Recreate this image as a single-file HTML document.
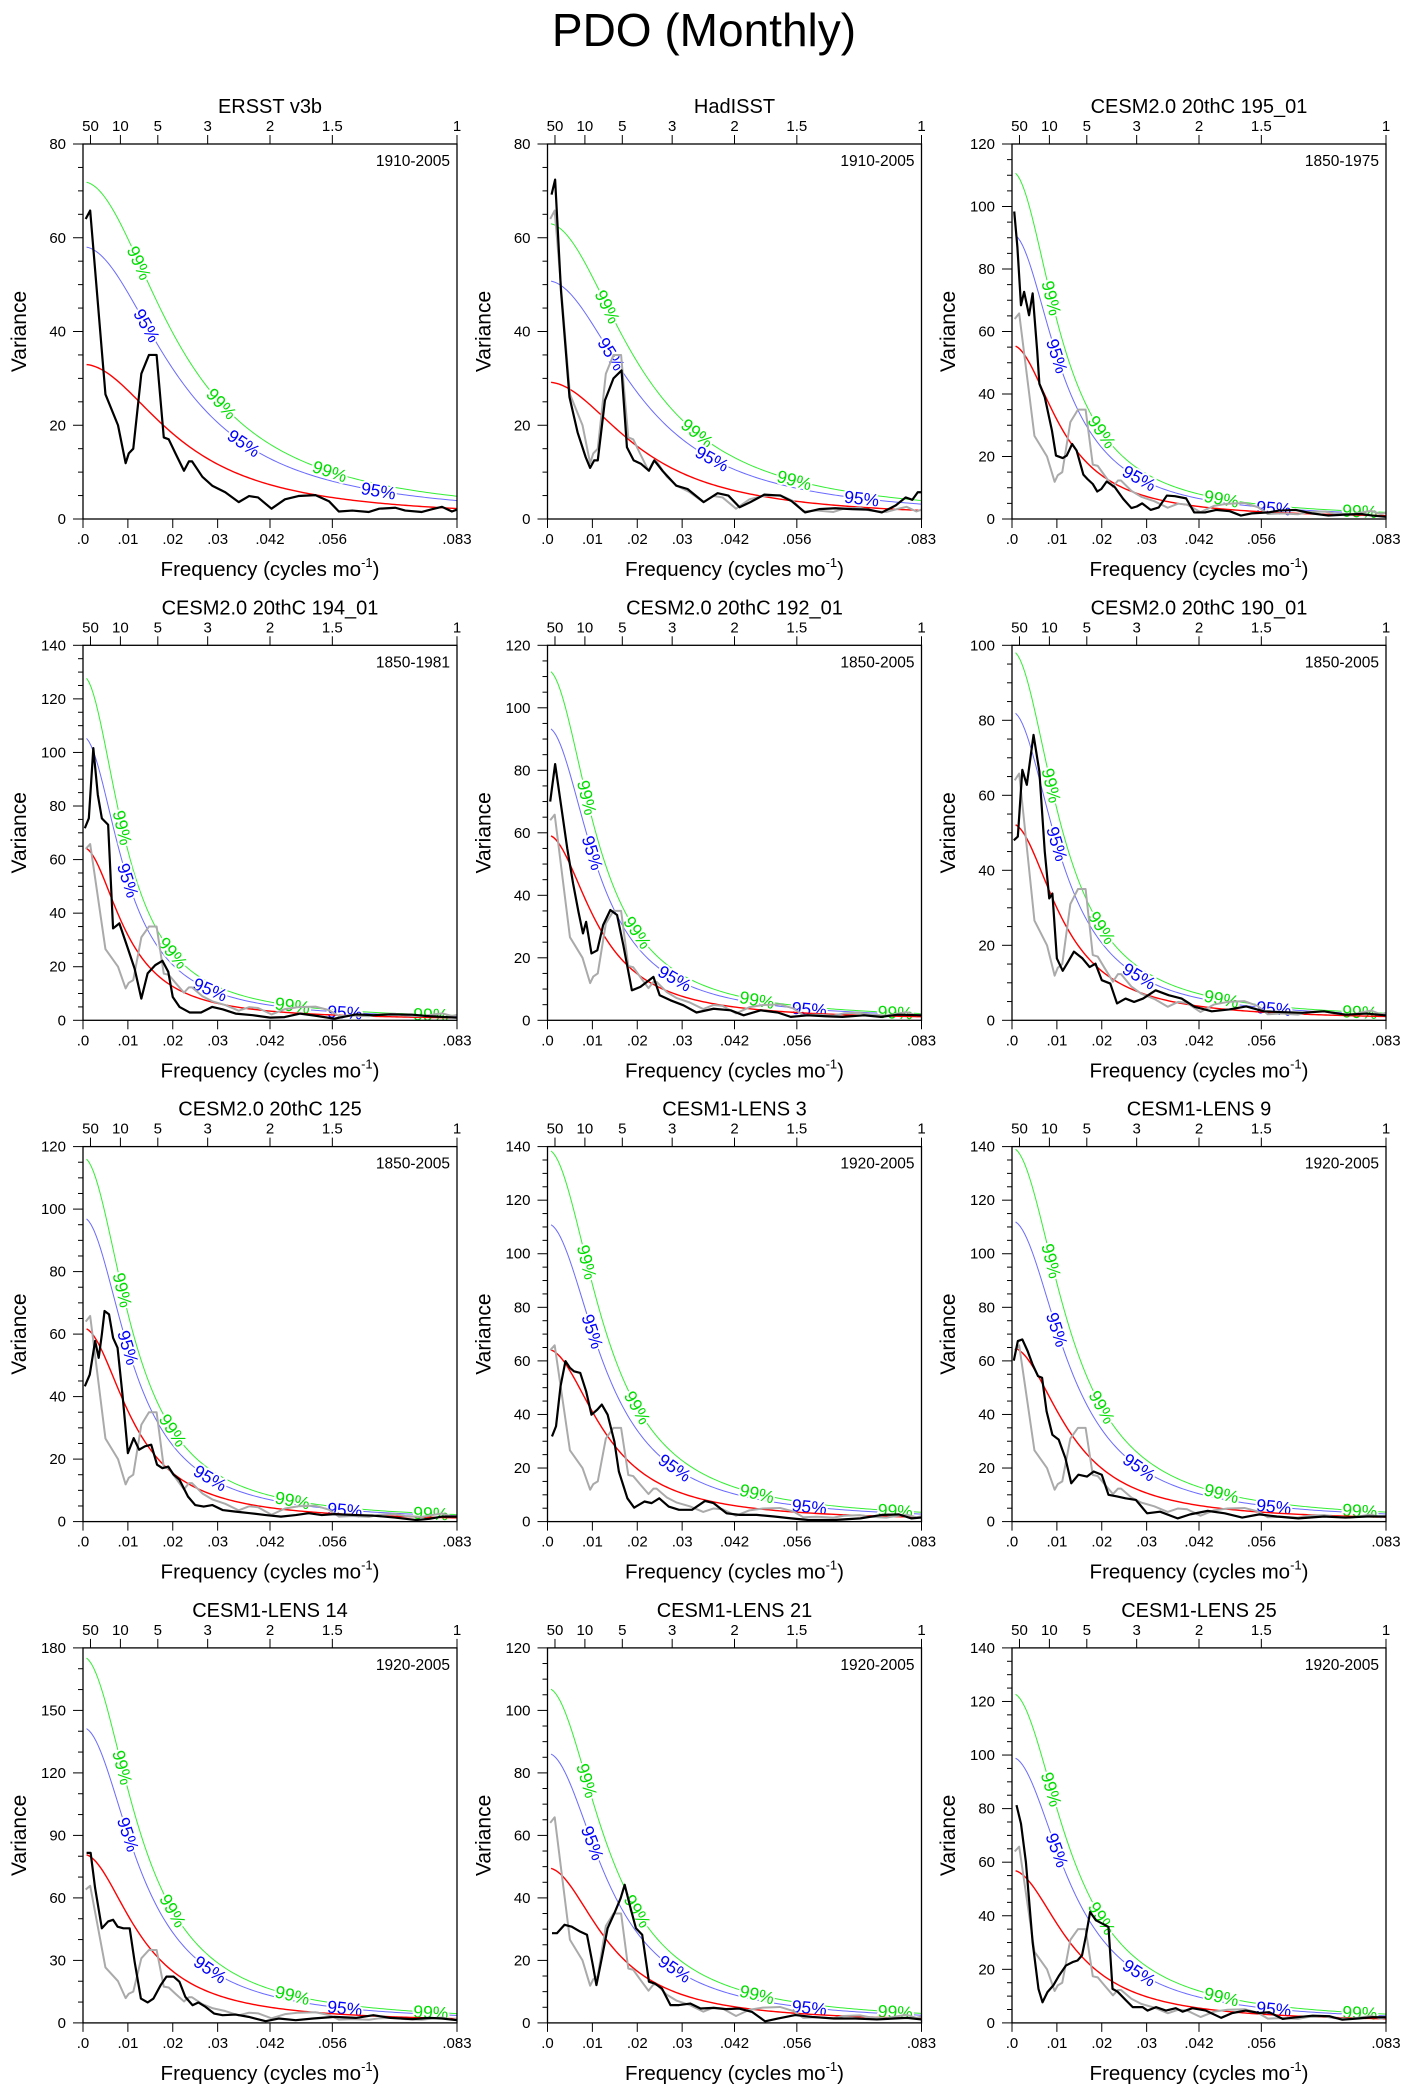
<!DOCTYPE html>
<html><head><meta charset="utf-8"><title>PDO (Monthly)</title>
<style>
html,body{margin:0;padding:0;background:#fff;}
svg{display:block;font-family:"Liberation Sans",Arial,sans-serif;}
</style></head>
<body>
<svg id="fig" width="1409" height="2095" viewBox="0 0 1409 2095" xmlns="http://www.w3.org/2000/svg">
<rect x="0" y="0" width="1409" height="2095" fill="#fff"/>
<text x="704" y="46" font-size="46" text-anchor="middle" fill="#000">PDO (Monthly)</text>
</svg>
<script>
const panelTitles = ["ERSST v3b","HadISST","CESM2.0 20thC 195_01","CESM2.0 20thC 194_01","CESM2.0 20thC 192_01","CESM2.0 20thC 190_01","CESM2.0 20thC 125","CESM1-LENS 3","CESM1-LENS 9","CESM1-LENS 14","CESM1-LENS 21","CESM1-LENS 25"];
const panelYears = ["1910-2005","1910-2005","1850-1975","1850-1981","1850-2005","1850-2005","1850-2005","1920-2005","1920-2005","1920-2005","1920-2005","1920-2005"];
const yMax = [80,80,120,140,120,100,120,140,140,180,120,140];
const yMajor = [20,20,20,20,20,20,20,20,20,30,20,20];
const yMinor = [5,5,5,5,5,5,5,5,5,10,5,5];
const redZero = [33,29.2,55.6,64.6,59.3,52.4,62,64.3,64.9,81,49.6,57];
const lag1 = [0.87,0.875,0.93,0.94,0.93,0.93,0.93,0.92,0.92,0.92,0.915,0.918];
const ratio95 = [1.76,1.74,1.64,1.64,1.58,1.57,1.57,1.73,1.73,1.75,1.74,1.74];
const ratio99 = [2.18,2.16,2.0,1.99,1.89,1.88,1.88,2.16,2.15,2.17,2.16,2.16];
const topPeriods = [50,10,5,3,2,1.5,1];
const topLabels = ["50","10","5","3","2","1.5","1"];
const bottomTicks = [0,0.01,0.02,0.03,1/24,1/18,1/12];
const bottomLabels = [".0",".01",".02",".03",".042",".056",".083"];

const specFreq = [
[.0006,.0016,.005,.0078,.0095,.0102,.0112,.013,.0147,.0164,.018,.0191,.0206,.0225,.0236,.0243,.0266,.0288,.0317,.0347,.037,.039,.042,.045,.048,.0518,.0548,.057,.06,.0637,.066,.0696,.0718,.0755,.0778,.08,.0822,.0833],
[.0009,.0017,.003,.0049,.0067,.0085,.0095,.0104,.0112,.0128,.0147,.0165,.0177,.0192,.0208,.0226,.0238,.0256,.0287,.0312,.0348,.0379,.0403,.0428,.0452,.0483,.0519,.0544,.0574,.0605,.0641,.0678,.0715,.0745,.0776,.0798,.0813,.0825,.0833],
[.0005,.0012,.002,.0027,.0038,.0046,.0056,.0061,.0073,.0089,.0098,.0113,.0122,.0134,.0144,.0159,.0168,.018,.019,.0199,.0211,.0229,.0248,.0266,.0278,.029,.0309,.0327,.0345,.0363,.0388,.0406,.043,.0455,.0485,.051,.0534,.0571,.0595,.0632,.0668,.0705,.0741,.0778,.0803,.0833],
[.0004,.0013,.0023,.0033,.0042,.0056,.0067,.0081,.01,.0115,.013,.0144,.0161,.0177,.019,.02,.0215,.0238,.0263,.0288,.0311,.034,.0378,.0417,.0449,.0484,.0522,.056,.0608,.0647,.0685,.0734,.0772,.081,.0833],
[.0006,.0017,.0029,.0044,.0057,.0069,.0079,.0086,.0098,.0111,.0124,.014,.0155,.0169,.0188,.0207,.0236,.025,.0274,.0303,.0332,.037,.0408,.0437,.0475,.0513,.0542,.058,.0619,.0657,.0705,.0743,.0781,.0833],
[.0004,.0013,.0023,.0033,.0042,.0048,.0061,.0073,.0083,.009,.01,.0113,.0125,.0138,.0157,.0173,.0186,.02,.0219,.0234,.0253,.0272,.0292,.032,.0349,.0378,.0407,.0445,.0484,.0522,.0561,.0599,.0647,.0695,.0743,.0791,.0833],
[.0004,.0015,.0027,.0035,.0042,.0048,.0058,.0067,.0077,.0088,.01,.0113,.0125,.0138,.0152,.0165,.0177,.019,.0202,.0215,.0234,.025,.0269,.0288,.0311,.034,.0372,.0407,.0441,.0474,.0503,.0532,.056,.0608,.0647,.0695,.0743,.0772,.08,.0833],
[.001,.0019,.0029,.004,.005,.0059,.0073,.0086,.0098,.0111,.0121,.0134,.0149,.0159,.0178,.0193,.0216,.0232,.0249,.027,.0293,.0322,.0351,.037,.0399,.0428,.0466,.0505,.0543,.0582,.0639,.0697,.0745,.0783,.0811,.0833],
[.0004,.0013,.0023,.0035,.0046,.0058,.0067,.0077,.009,.0104,.0119,.0132,.0148,.0167,.0182,.02,.0215,.0234,.0253,.0276,.0301,.033,.0369,.0397,.0436,.0474,.0513,.0551,.059,.0638,.0695,.0743,.0791,.0833],
[.0008,.0017,.0027,.0042,.0056,.0067,.0077,.009,.0104,.0115,.0129,.0144,.0157,.0173,.0186,.0202,.0215,.0228,.0244,.0257,.0273,.0292,.0311,.034,.0369,.0407,.0436,.0474,.0513,.056,.0608,.0647,.0685,.0734,.0772,.08,.0833],
[.001,.0021,.0038,.0054,.0073,.0088,.0101,.0109,.0121,.0134,.0149,.0163,.0172,.0184,.0197,.0211,.0226,.0239,.0255,.0274,.0293,.0318,.0341,.037,.0398,.0427,.0456,.0485,.0513,.0552,.059,.0638,.0686,.0734,.0772,.0801,.0833],
[.001,.002,.0031,.0046,.0059,.0068,.0079,.0092,.0105,.012,.0135,.0146,.0156,.0165,.0174,.0187,.0202,.0215,.0224,.0235,.0254,.0269,.0291,.0302,.0321,.0343,.0365,.038,.0402,.0432,.0466,.0491,.0521,.0551,.0573,.0603,.0633,.067,.0707,.0736,.0774,.0803,.0833]
];
const specVar = [
[64,65.8,26.6,20,11.9,14,15,31,35,35,17.4,17,14,10.3,12.3,12.3,9,7.1,5.7,3.6,4.9,4.6,2.2,4.2,4.9,5.1,3.8,1.6,1.8,1.5,2.2,2.4,1.8,1.5,2.1,2.6,1.6,2.0],
[69.2,72.4,48.8,26,18.5,13.2,10.9,12.5,12.5,25.3,30,31.7,15.3,12.5,11.8,10.3,12.5,10.3,7.1,6.4,3.6,5.5,5,2.5,3.6,5.2,5,3.8,1.4,2.1,2.3,2.1,2,1.4,2.9,4.6,4.1,5.7,5.7],
[98.4,87,68.4,72.7,65.2,72.2,54,43.3,39,28.3,20.3,19.5,20.3,24,21.9,14.2,12.8,11.2,8.8,9.6,12,10.2,6.4,3.5,4,5,2.9,3.7,7.5,7.3,6.6,2.1,2.1,2.9,2.5,1.1,1.8,2.1,2.7,2.9,1.8,1.1,1.4,1.6,1.1,0.7],
[71.7,75.4,101.6,84.2,75.4,73,34.3,36.2,26.8,19.3,8.1,17.5,20.6,22.2,18.1,8.7,5,2.9,2.9,5,4.1,2.5,1.9,1,1.2,2.5,1.6,0.6,2.2,1.9,2.2,2.1,1.5,1.2,1],
[70,82,70,55,43.8,34.7,27.8,31.5,21.4,22.4,30.5,35.3,33.7,24,9.6,10.7,13.9,8,6.4,4.8,2.5,3.7,3.2,1.6,3.2,2.5,1.1,1.6,1.3,1.1,1.6,1.1,1.8,1.6],
[48,49,66.8,62.8,70.8,76.1,66.3,45,32.5,33.8,16.5,13.2,15.6,18.3,16.5,14.2,15.1,10.7,9.8,4.5,5.8,4.9,5.8,8,6.7,5.8,3.6,2.4,2.9,3.7,2.4,2.2,2,2.4,1.5,1.8,1.3],
[43.3,47,57.8,52.4,59.9,67.4,66.3,58.8,55.6,40.6,21.9,26.7,23,24.1,24.6,18.2,17.1,17.6,15,13.4,8,5.3,4.8,5.3,3.7,3.2,2.7,2.1,1.6,2.1,2.7,2.1,2.4,2.1,1.9,1.3,0.5,0.9,1.6,1.6],
[31.8,35.6,50.5,59.9,57.4,56.1,55.5,48.7,39.9,41.8,43.7,39.9,29.9,18.7,8.7,5.2,7.5,6.9,8.7,5.6,4.4,4.4,7.7,6.9,3.1,2.5,2.5,1.9,1.2,0.6,0.6,1.2,2.5,2.7,1.2,1.5],
[60.1,67.4,68,63.6,58.6,54.3,53.7,41.2,32.4,30.6,23.7,14.3,17.5,16.8,18.7,17.5,10,9.4,8.7,8.1,3.1,3.7,1.2,2.7,4,3.1,1.5,2.7,1.9,1.2,1.9,1.5,1.9,1.9],
[81.6,81.6,64.7,45.4,48.7,49.5,46.2,45.4,45.4,29.4,11.7,9.8,11.7,18.1,22.2,22.2,19.7,12.5,8.5,9.8,7.7,4.5,3.7,4,2.9,0.8,2.1,1.3,2.1,2.9,2.4,3.7,2.4,1.8,2.4,2.1,1.3],
[28.7,28.7,31.4,30.8,29.2,28.2,18.5,12.1,20.7,30.3,35.1,39.9,44.2,37.3,30.3,28.2,13.2,12.6,11,5.7,5.7,6.2,4.6,4.8,4.4,4.6,3.5,0.5,1.4,2.5,1.9,1.4,1.4,1.1,1.4,1.6,1.1],
[81.3,74.4,60,30,12.7,7.7,11.5,14,17.7,21.4,22.7,23.3,25.2,32.7,41.4,38.3,37,35.8,12.7,11.7,8.4,5.9,5.9,4.6,5.9,4.6,5.5,4.2,5.5,4.6,1.9,3.7,4.6,3.7,4,1.5,2.1,2.7,2.5,1.2,1.7,2.1,2.1]
];
const label99Pos = [[0.15,0.37,0.66],[0.16,0.40,0.66],[0.105,0.24,0.56,0.93]];
const label95Pos = [[0.17,0.43,0.79],[0.17,0.44,0.84],[0.12,0.34,0.70]];

const NS = "http://www.w3.org/2000/svg";
const svg = document.getElementById("fig");
const FMAX = 1/12, PW = 374, PH = 375;
function mk(tag, attrs, parent){const e=document.createElementNS(NS,tag);for(const k in attrs)e.setAttribute(k,attrs[k]);(parent||svg).appendChild(e);return e;}
function redSpec(i,f){const r=lag1[i];return redZero[i]*(1-r)*(1-r)/(1-2*r*Math.cos(2*Math.PI*f)+r*r);}

for(let i=0;i<12;i++){
  const col=i%3,row=Math.floor(i/3);
  const x0=83+col*464.5,y0=144+row*501.3;
  const xs=f=>x0+f/FMAX*PW;
  const ys=v=>y0+PH-v/yMax[i]*PH;
  const g=mk("g",{});
  
  
  const clipId="clip"+i;
  const cp=mk("clipPath",{id:clipId},g);
  mk("rect",{x:x0,y:y0,width:PW,height:PH},cp);
  const plot=mk("g",{"clip-path":"url(#"+clipId+")"},g);
  
  

  const N=160,f0=0.0008;
  const curve=(mult)=>{let d="";for(let k=0;k<=N;k++){const f=f0+(FMAX-f0)*k/N;d+=(k?"L":"M")+xs(f).toFixed(2)+","+ys(redSpec(i,f)*mult).toFixed(2);}return d;};
  const green=mk("path",{d:curve(ratio99[i]),fill:"none",stroke:"#33ee33","stroke-width":1},plot);
  
  
  const blue=mk("path",{d:curve(ratio95[i]),fill:"none",stroke:"#6a6aff","stroke-width":1},plot);
  
  

  const set=i<2?i:2;
  const placeLabel=(frac,mult,txt,color,nm)=>{
    const f=frac*FMAX,df=0.0004;
    const px=xs(f),py=ys(redSpec(i,f)*mult);
    const dx=xs(f+df)-xs(f-df),dy=ys(redSpec(i,f+df)*mult)-ys(redSpec(i,f-df)*mult);
    const ang=Math.atan2(dy,dx)*180/Math.PI;
    const t=mk("text",{x:px,y:py+6,"font-size":17.5,"text-anchor":"middle",fill:color,stroke:"#fff","stroke-width":4,"paint-order":"stroke","stroke-linejoin":"round",transform:"rotate("+ang.toFixed(1)+" "+px.toFixed(1)+" "+py.toFixed(1)+")"},plot);
    t.textContent=txt;
    
    
  };
  label99Pos[set].forEach(p=>placeLabel(p,ratio99[i],"99%","#00dd00","label-99-percent"));
  label95Pos[set].forEach(p=>placeLabel(p,ratio95[i],"95%","#0000ff","label-95-percent"));

  const red=mk("path",{d:curve(1),fill:"none",stroke:"#ff0000","stroke-width":1.4},plot);
  
  

  const line=(fa,va)=>{let d="";const n=Math.min(fa.length,va.length);for(let k=0;k<n;k++)d+=(k?"L":"M")+xs(fa[k]).toFixed(2)+","+ys(va[k]).toFixed(2);return d;};
  if(i>0){
    const gray=mk("path",{d:line(specFreq[0],specVar[0]),fill:"none",stroke:"#aaaaaa","stroke-width":2,"stroke-linejoin":"round"},plot);
    
    
  }
  const blk=mk("path",{d:line(specFreq[i],specVar[i]),fill:"none",stroke:"#000","stroke-width":2.2,"stroke-linejoin":"round"},plot);
  
  

  const frame=mk("rect",{x:x0,y:y0,width:PW,height:PH,fill:"none",stroke:"#000","stroke-width":1.3},g);
  
  

  for(let v=0;v<=yMax[i]+1e-6;v+=yMinor[i]){
    const major=Math.abs(v/yMajor[i]-Math.round(v/yMajor[i]))<1e-6;
    const y=ys(v);
    mk("line",{x1:x0-(major?10:5),x2:x0,y1:y,y2:y,stroke:"#000","stroke-width":1},g);
    if(major){
      const t=mk("text",{x:x0-17,y:y+5,"font-size":15,"text-anchor":"end",fill:"#000"},g);
      t.textContent=String(v);
      
      
    }
  }
  bottomTicks.forEach((f,k)=>{
    const x=xs(f);
    mk("line",{x1:x,x2:x,y1:y0+PH,y2:y0+PH+9,stroke:"#000","stroke-width":1},g);
    const t=mk("text",{x:x,y:y0+PH+25,"font-size":15,"text-anchor":"middle",fill:"#000"},g);
    t.textContent=bottomLabels[k];
    
    
  });
  topPeriods.forEach((p,k)=>{
    const x=xs(1/(12*p));
    mk("line",{x1:x,x2:x,y1:y0,y2:y0-9,stroke:"#000","stroke-width":1},g);
    const t=mk("text",{x:x,y:y0-13,"font-size":15,"text-anchor":"middle",fill:"#000"},g);
    t.textContent=topLabels[k];
    
    
  });
  const title=mk("text",{x:x0+PW/2,y:y0-31,"font-size":20,"text-anchor":"middle",fill:"#000"},g);
  title.textContent=panelTitles[i];
  
  
  const yr=mk("text",{x:x0+PW-7,y:y0+22,"font-size":15.5,"text-anchor":"end",fill:"#000"},g);
  yr.textContent=panelYears[i];
  
  
  const yl=mk("text",{x:x0-57,y:y0+PH/2,"font-size":21,"text-anchor":"middle",fill:"#000",transform:"rotate(-90 "+(x0-57)+" "+(y0+PH/2)+")"},g);
  yl.textContent="Variance";
  
  
  const xl=mk("text",{x:x0+PW/2,y:y0+PH+57,"font-size":20.5,"text-anchor":"middle",fill:"#000"},g);
  
  
  xl.appendChild(document.createTextNode("Frequency (cycles mo"));
  const sup=mk("tspan",{"font-size":13,dy:-9},xl);
  sup.textContent="-1";
  const cl=mk("tspan",{dy:9},xl);
  cl.textContent=")";
}
</script>
</body></html>
